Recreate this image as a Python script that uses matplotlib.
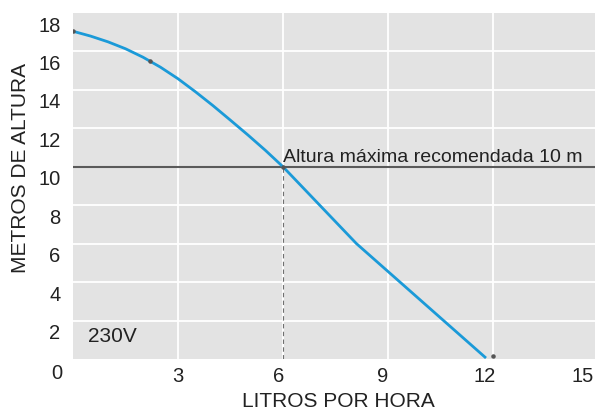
import matplotlib.pyplot as plt
import matplotlib.transforms as mtransforms

plt.rcParams['font.family'] = ['Liberation Sans', 'DejaVu Sans']

# curva de la bomba (litros por hora vs metros de altura)
caudal = [0.0, 0.5, 1.0, 1.5, 2.0, 2.5, 3.0, 3.5, 4.0, 4.5, 5.0, 5.5, 6.0,
          8.1, 11.8]
altura = [17.05, 16.8, 16.5, 16.14, 15.7, 15.18, 14.58, 13.9, 13.18, 12.42,
          11.65, 10.85, 10.0, 6.0, 0.05]

puntos_x = [0.0, 2.2, 6.0, 12.0]
puntos_y = [17.05, 15.5, 10.0, 0.18]

xticks = [3, 6, 9, 12, 15]
xtick_shift = [0, -4, -5, -8, -15]
yticks = [2, 4, 6, 8, 10, 12, 14, 16, 18]
altura_max = 10
caudal_max = 6

fig = plt.figure(figsize=(5.95, 4.1), dpi=100)
ax = fig.add_axes([73 / 595, 1 - 360 / 410, 525 / 595, 346 / 410])
ax.set_facecolor('#e3e3e3')
for s in ax.spines.values():
    s.set_visible(False)

ax.set_xlim(0, 15)
ax.set_ylim(0, 18)

# rejilla blanca
for xv in xticks[:-1]:
    ax.axvline(xv, color='white', lw=1.3, zorder=1)
for yv in yticks[:-1]:
    ax.axhline(yv, color='white', lw=1.3, zorder=1)

ax.axhline(altura_max, color='#5a5a5a', lw=1.5, zorder=2)
ax.plot([caudal_max, caudal_max], [0, altura_max], color='#707070', lw=0.8,
        ls=(0, (4, 3)), zorder=2)

ax.plot(caudal, altura, color='#1b9ad8', lw=2.0, zorder=3,
        solid_capstyle='butt', solid_joinstyle='round')
ax.scatter(puntos_x, puntos_y, s=5, color='#555555', zorder=4)

ax.text(6.0, 10.3, 'Altura máxima recomendada 10 m', fontsize=14,
        color='#222222', ha='left', va='baseline', zorder=5)
ax.text(0.43, 1.2, '230V', fontsize=15, color='#222222', ha='left', va='center')

ax.set_xticks(xticks)
ax.set_xticklabels([str(v) for v in xticks])
ax.set_yticks(yticks)
ax.set_yticklabels([str(v) for v in yticks])
ax.tick_params(length=0, labelsize=14.5, labelcolor='#222222')
ax.tick_params(axis='x', pad=5)
ax.tick_params(axis='y', pad=9)

for lab, dx in zip(ax.get_xticklabels(), xtick_shift):
    lab.set_transform(lab.get_transform() +
                      mtransforms.ScaledTranslation(dx / 100, 0, fig.dpi_scale_trans))
for lab in ax.get_yticklabels():
    lab.set_transform(lab.get_transform() +
                      mtransforms.ScaledTranslation(0, -10 / 100, fig.dpi_scale_trans))

ax.text(-16 / 35, -13.5 / 19.22, '0', fontsize=14.5, color='#222222',
        ha='center', va='center')

fig.text(338 / 595, 1 - 407 / 410, 'LITROS POR HORA', fontsize=15,
         color='#222222', ha='center', va='baseline')
fig.text(21 / 595, 1 - 168 / 410, 'METROS DE ALTURA', fontsize=15,
         color='#222222', ha='center', va='center', rotation=90)

fig.savefig('out.png', dpi=100)
